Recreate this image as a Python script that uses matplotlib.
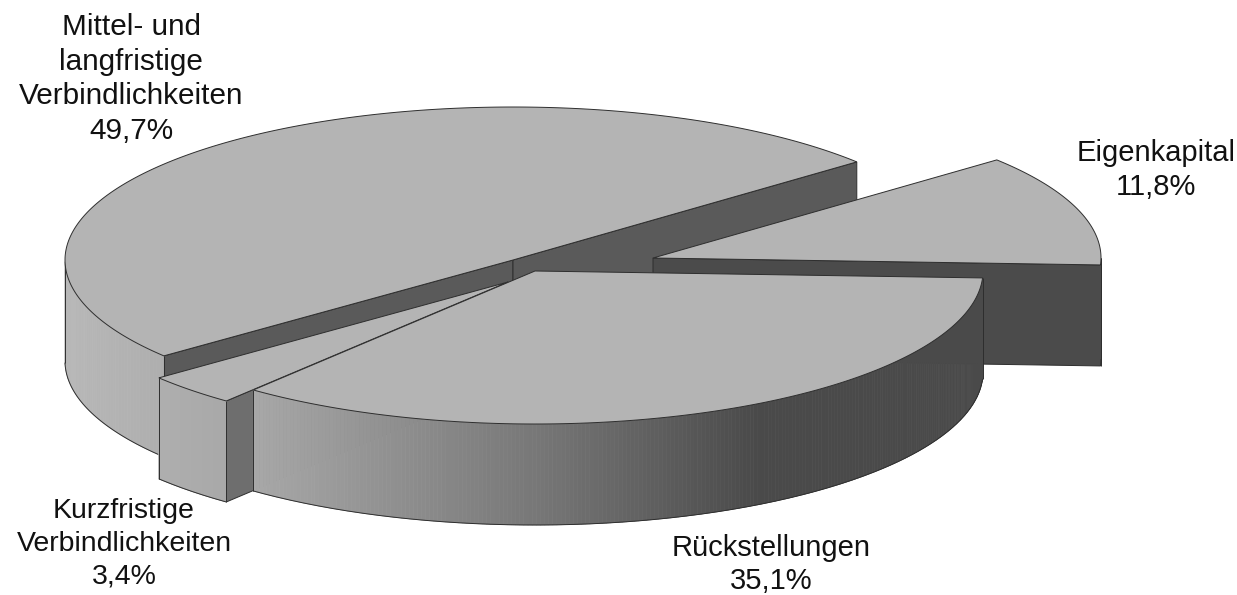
import numpy as np
import matplotlib
matplotlib.use('Agg')
import matplotlib.pyplot as plt
from matplotlib.patches import Polygon

# Anteile in Prozent
labels = ['Mittel- und\nlangfristige\nVerbindlichkeiten\n49,7%', 'Eigenkapital\n11,8%',
          'Rückstellungen\n35,1%', 'Kurzfristige\nVerbindlichkeiten\n3,4%']
shares = [49.7, 11.8, 35.1, 3.4]

START = -218.8   # screen angle where the first slice begins
RX, RY = 448, 153
DEPTH = 101
TOP = '#b4b4b4'
EDGE = '#2e2e2e'

# per slice: apex position on the canvas, colour of the cut face
apex = [(513, 260), (653, 258), (535, 271), (508, 282)]
cut_color = ['#5a5a5a', '#4b4b4b', '#4b4b4b', '#6e6e6e']
label_pos = [(131, 79), (1156, 170), (771, 564.5), (124, 544)]
label_size = [21.4, 21, 21, 20.5]
label_spacing = [1.29, 1.26, 1.26, 1.33]
draw_order = [0, 1, 3, 2]

plt.rcParams['font.family'] = ['Liberation Sans', 'DejaVu Sans']
fig = plt.figure(figsize=(12.37, 5.95), dpi=100)
ax = fig.add_axes([0, 0, 1, 1])
ax.set_xlim(0, 1237)
ax.set_ylim(595, 0)
ax.axis('off')


def wall_gray(t):
    c = np.cos(np.radians(t))
    return np.interp(c, [-1, -0.63, 0, 0.5, 1], [0.72, 0.66, 0.47, 0.29, 0.29])


def outline(points):
    # patches keep the paint order, so nearer slices can cover these lines
    ax.add_patch(Polygon(points, closed=False, fill=False, ec=EDGE, lw=0.7))


angles = START + np.cumsum([0] + [s * 3.6 for s in shares])

for i in draw_order:
    a0, a1 = angles[i], angles[i + 1]
    cx, cy = apex[i]
    ts = np.linspace(a0, a1, 240)
    xs = cx + RX * np.cos(np.radians(ts))
    ys = cy + RY * np.sin(np.radians(ts))

    # cut faces, only those turned towards the viewer
    if np.cos(np.radians(a0)) < 0:
        quad = [(cx, cy), (xs[0], ys[0]), (xs[0], ys[0] + DEPTH), (cx, cy + DEPTH)]
        ax.add_patch(Polygon(quad, fc=cut_color[i], ec=EDGE, lw=0.7))
    if np.cos(np.radians(a1)) > 0:
        quad = [(cx, cy), (xs[-1], ys[-1]), (xs[-1], ys[-1] + DEPTH), (cx, cy + DEPTH)]
        ax.add_patch(Polygon(quad, fc=cut_color[i], ec=EDGE, lw=0.7))

    # outer wall, only the front half of the rim can be seen
    norm = np.mod(ts, 360)
    idx = np.where(norm <= 180)[0]
    if len(idx) > 1:
        for k in range(idx[0], idx[-1]):
            g = float(wall_gray(ts[k]))
            quad = [(xs[k], ys[k]), (xs[k + 1], ys[k + 1]),
                    (xs[k + 1], ys[k + 1] + DEPTH), (xs[k], ys[k] + DEPTH)]
            ax.add_patch(Polygon(quad, fc=(g, g, g), ec=(g, g, g), lw=0.5))
        outline(np.column_stack([xs[idx], ys[idx] + DEPTH]))
        outline([(xs[idx[0]], ys[idx[0]]), (xs[idx[0]], ys[idx[0]] + DEPTH)])
        outline([(xs[idx[-1]], ys[idx[-1]]), (xs[idx[-1]], ys[idx[-1]] + DEPTH)])

    # top
    top = np.column_stack([np.r_[cx, xs], np.r_[cy, ys]])
    ax.add_patch(Polygon(top, closed=True, fc=TOP, ec=EDGE, lw=0.7))

for text, (x, y), size, spacing in zip(labels, label_pos, label_size, label_spacing):
    ax.text(x, y, text, ha='center', va='center', multialignment='center',
            fontsize=size, color='#111111', linespacing=spacing)

fig.savefig('out.png', dpi=100)
